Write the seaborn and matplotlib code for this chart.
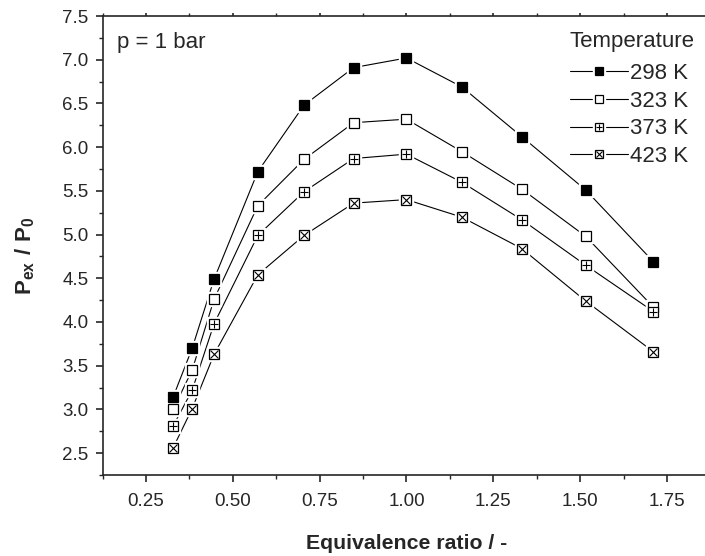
import matplotlib
matplotlib.use("Agg")
import matplotlib.pyplot as plt
import pandas as pd
import seaborn as sns
from matplotlib.legend_handler import HandlerTuple
from matplotlib.lines import Line2D
from matplotlib.ticker import FormatStrFormatter, MultipleLocator

# equivalence ratio (x) and P_ex / P_0 for each initial temperature
phi = [0.328, 0.383, 0.446, 0.572, 0.705, 0.848, 1.0, 1.159, 1.332, 1.516, 1.711]
p_298 = [3.14, 3.70, 4.49, 5.72, 6.48, 6.91, 7.02, 6.69, 6.12, 5.51, 4.69]
p_323 = [3.00, 3.45, 4.26, 5.33, 5.86, 6.28, 6.32, 5.95, 5.52, 4.98, 4.17]
p_373 = [2.81, 3.22, 3.98, 4.99, 5.49, 5.87, 5.92, 5.60, 5.17, 4.65, 4.12]
p_423 = [2.56, 3.01, 3.63, 4.54, 4.99, 5.36, 5.40, 5.20, 4.84, 4.24, 3.66]
temps = ["298 K", "323 K", "373 K", "423 K"]

df = pd.concat(
    [pd.DataFrame({"phi": phi, "ratio": v, "T": t})
     for t, v in zip(temps, [p_298, p_323, p_373, p_423])]
)

sns.set_style("ticks")
plt.rcParams["font.family"] = ["Liberation Sans", "DejaVu Sans"]
plt.rcParams["mathtext.fontset"] = "custom"
plt.rcParams["mathtext.rm"] = "Liberation Sans"
plt.rcParams["mathtext.bf"] = "Liberation Sans:bold"

fig = plt.figure(figsize=(7.05, 5.56), dpi=100)
ax = fig.add_axes([0.1455, 0.1457, 0.8621, 0.8255])

# square face and the inner symbol drawn on top of it
styles = {
    "298 K": ("black", None),
    "323 K": ("white", None),
    "373 K": ("white", "+"),
    "423 K": ("white", "x"),
}
ms = 7.5
handles = []
for t in temps:
    face, inner = styles[t]
    sub = df[df["T"] == t]
    sns.lineplot(data=sub, x="phi", y="ratio", ax=ax, color="black", lw=0.8,
                 zorder=2)
    # white halo so the connecting lines stop short of the symbols
    ax.plot(sub["phi"], sub["ratio"], ls="none", marker="s", markersize=ms + 3,
            markerfacecolor="white", markeredgecolor="white", zorder=2.5)
    ax.plot(sub["phi"], sub["ratio"], ls="none", marker="s", markersize=ms,
            markerfacecolor=face, markeredgecolor="black",
            markeredgewidth=0.9, zorder=3)
    parts = [Line2D([], [], color="black", lw=0.8),
             Line2D([], [], ls="none", marker="s", markersize=8.5,
                    markerfacecolor="white", markeredgecolor="white"),
             Line2D([], [], ls="none", marker="s", markersize=6,
                    markerfacecolor=face, markeredgecolor="black",
                    markeredgewidth=0.9)]
    if inner:
        ax.plot(sub["phi"], sub["ratio"], ls="none", marker=inner,
                markersize=ms - 1.2, markeredgecolor="black",
                markeredgewidth=0.8, zorder=4)
        parts.append(Line2D([], [], ls="none", marker=inner, markersize=5,
                            markeredgecolor="black", markeredgewidth=0.8))
    handles.append(tuple(parts))

ax.set_xlim(0.125, 1.875)
ax.set_ylim(2.25, 7.5)
ax.xaxis.set_major_locator(MultipleLocator(0.25))
ax.xaxis.set_minor_locator(MultipleLocator(0.125))
ax.yaxis.set_major_locator(MultipleLocator(0.5))
ax.yaxis.set_minor_locator(MultipleLocator(0.25))
ax.xaxis.set_major_formatter(FormatStrFormatter("%.2f"))
ax.yaxis.set_major_formatter(FormatStrFormatter("%.1f"))

for s in ax.spines.values():
    s.set_linewidth(1.2)
ax.tick_params(which="major", length=5, width=1.2, labelsize=13.5,
               direction="out")
ax.tick_params(which="minor", length=3, width=1.0, direction="out")
ax.tick_params(which="both", top=True, right=False)
ax.xaxis.set_tick_params(which="major", pad=8)
ax.yaxis.set_tick_params(which="major", pad=5)
for tk in ax.xaxis.get_major_ticks() + ax.xaxis.get_minor_ticks():
    tk.tick2line.set_markersize(2)

ax.set_xlabel("Equivalence ratio / -", fontsize=15.3, fontweight="bold",
              labelpad=17)
ax.set_ylabel(r"$\mathbf{P_{ex}\ /\ P_0}$", fontsize=16)
ax.yaxis.set_label_coords(-0.108, 0.477)

ax.text(0.024, 0.965, "p = 1 bar", transform=ax.transAxes, fontsize=16,
        va="top", ha="left")

leg = ax.legend(handles, temps, handler_map={tuple: HandlerTuple(ndivide=1)},
                title="Temperature", loc="upper right",
                bbox_to_anchor=(695 / 705, 1 - 31 / 556),
                bbox_transform=fig.transFigure, frameon=False, fontsize=16,
                title_fontsize=16, handlelength=2.6, handletextpad=0.1,
                labelspacing=0.3, borderaxespad=0, borderpad=0)
leg._legend_box.align = "left"
leg._legend_box.sep = 8

fig.savefig("out.png", dpi=100)
